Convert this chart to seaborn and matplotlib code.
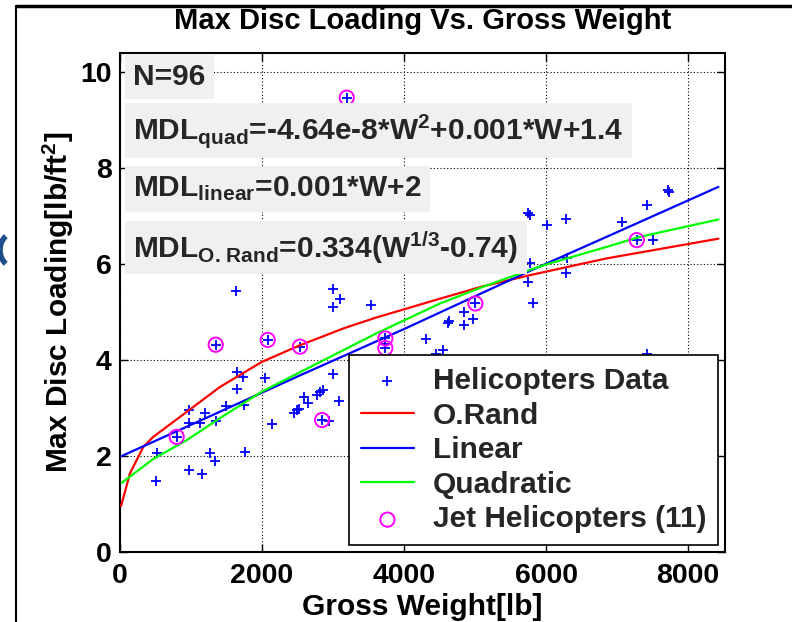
import matplotlib
matplotlib.use("Agg")
import matplotlib.pyplot as plt
from matplotlib.lines import Line2D
from matplotlib.patches import Arc
import seaborn as sns
import pandas as pd

# ---------------- data ----------------
heli_w = [503, 516, 798, 972, 972, 972, 1127, 1150, 1197, 1263, 1343, 1348, 1357,
          1498, 1634, 1643, 1643, 1737, 1742, 1754, 2042, 2080, 2145, 2455, 2489,
          2526, 2535, 2596, 2643, 2770, 2815, 2855, 2845, 2950, 3005, 3099, 3005,
          3005, 3089, 3193, 3533, 3737, 3737, 3737, 4307, 4448, 4552, 4630, 4620,
          4850, 4847, 4967, 5005, 5742, 5775, 5770, 5742, 5810, 6018, 6277, 6300,
          6280, 7066, 7277, 7511, 7418, 7718, 7737, 7418]
heli_mdl = [1.49, 2.07, 2.40, 1.71, 2.68, 2.96, 2.69, 1.63, 2.89, 2.06, 1.89, 4.32, 2.72,
            3.04, 5.44, 3.76, 3.40, 3.65, 3.07, 2.08, 3.62, 4.42, 2.67, 2.89, 2.96,
            2.99, 4.28, 3.23, 3.10, 3.27, 3.34, 3.38, 2.75, 2.72, 5.48, 5.27, 5.10,
            3.72, 3.15, 9.47, 5.15, 4.45, 4.34, 4.25, 4.43, 4.12, 4.21, 4.81, 4.78,
            5.01, 4.74, 4.85, 5.18, 7.06, 7.03, 6.02, 5.62, 5.19, 6.81, 6.93, 6.12,
            5.81, 6.88, 6.50, 6.51, 7.23, 7.54, 7.51, 4.12]

jet_w = [798, 1348, 2080, 2535, 2845, 3193, 3737, 3737, 5005, 7277]
jet_mdl = [2.40, 4.32, 4.42, 4.28, 2.75, 9.47, 4.45, 4.25, 5.18, 6.50]

orand_w = [15, 141, 328, 469, 939, 1408, 1995, 2535, 2817, 3146, 3615, 4005,
           4507, 5117, 5775, 6855, 8427]
orand_mdl = [0.96, 1.64, 2.19, 2.40, 2.92, 3.44, 3.96, 4.31, 4.47, 4.66, 4.89, 5.06,
             5.28, 5.54, 5.77, 6.12, 6.53]

linear_w = [24, 1268, 2488, 4005, 5775, 6855, 8427]
linear_mdl = [2.00, 2.83, 3.65, 4.65, 5.86, 6.57, 7.61]

quad_w = [24, 469, 939, 1408, 1995, 2817, 3615, 4005, 4507, 5117, 5775, 6018,
          6855, 7324, 8427]
quad_mdl = [1.44, 1.94, 2.33, 2.79, 3.34, 3.96, 4.56, 4.83, 5.18, 5.53, 5.88, 6.00,
            6.36, 6.57, 6.93]

x_ticks = [0, 2000, 4000, 6000, 8000]
y_ticks = [0, 2, 4, 6, 8, 10]

title = "Max Disc Loading Vs. Gross Weight"
x_label = "Gross Weight[lb]"
y_label = r"Max Disc Loading[lb/ft$^{2}$]"
legend_labels = ["Helicopters Data", "O.Rand", "Linear", "Quadratic", "Jet Helicopters (11)"]
txt_n = "N=96"
txt_quad = r"$\mathrm{MDL}_{\mathrm{quad}}\text{=-4.64e-8*W}^{2}\text{+0.001*W+1.4}$"
txt_lin = r"$\mathrm{MDL}_{\mathrm{linear}}\text{=0.001*W+2}$"
txt_orand = r"$\mathrm{MDL}_{\text{O. Rand}}\text{=0.334(W}^{\text{1/3}}\text{-0.74)}$"

# ---------------- style ----------------
sns.set_theme(style="white")
plt.rcParams.update({
    "font.family": ["Liberation Sans", "DejaVu Sans"],
    "font.weight": "bold",
    "axes.labelweight": "bold",
    "axes.titleweight": "bold",
    "mathtext.fontset": "custom",
    "mathtext.rm": "Liberation Sans:bold",
    "mathtext.it": "Liberation Sans:bold",
    "mathtext.bf": "Liberation Sans:bold",
    "mathtext.sf": "Liberation Sans:bold",
    "axes.unicode_minus": False,
})

W, H = 792, 622
fig = plt.figure(figsize=(W / 100, H / 100), dpi=100)
ax = fig.add_axes([120 / W, (H - 552) / H, (725 - 120) / W, (552 - 53) / H])

heli = pd.DataFrame({"w": heli_w, "mdl": heli_mdl})
jets = pd.DataFrame({"w": jet_w, "mdl": jet_mdl})

sns.scatterplot(data=heli, x="w", y="mdl", marker="+", color="#0000ff", s=60,
                linewidth=1.3, label=legend_labels[0], ax=ax, zorder=3)
sns.lineplot(x=orand_w, y=orand_mdl, color="#ff0000", lw=1.6, sort=False,
             estimator=None, label=legend_labels[1], ax=ax, zorder=3)
sns.lineplot(x=linear_w, y=linear_mdl, color="#0000ff", lw=1.6, sort=False,
             estimator=None, label=legend_labels[2], ax=ax, zorder=3)
sns.lineplot(x=quad_w, y=quad_mdl, color="#00ff00", lw=1.6, sort=False,
             estimator=None, label=legend_labels[3], ax=ax, zorder=3)
sns.scatterplot(data=jets, x="w", y="mdl", marker="o", s=105, color="#ff00ff",
                facecolor="none", edgecolor="#ff00ff", linewidth=1.4,
                label=legend_labels[4], ax=ax, zorder=4)

ax.set_xlim(0, 8520)
ax.set_ylim(0, 10.4)
ax.set_xticks(x_ticks)
ax.set_yticks(y_ticks)
ax.set_xticklabels([str(v) for v in x_ticks])
ax.set_yticklabels([str(v) for v in y_ticks])
ax.tick_params(direction="in", length=6, width=1, top=True, right=True,
               bottom=True, left=True, labelsize=20.5, colors="black")
ax.tick_params(axis="x", pad=8)
ax.tick_params(axis="y", pad=6)
ax.grid(True, linestyle=(0, (1, 2)), color="black", linewidth=0.8)
ax.set_axisbelow(True)
for sp in ax.spines.values():
    sp.set_visible(True)
    sp.set_color("black")
    sp.set_linewidth(1.5)

ax.set_title(title, fontsize=21, pad=17, color="black")
ax.set_xlabel(x_label, fontsize=21.5, labelpad=3, color="black")
ax.set_ylabel(y_label, fontsize=21.5, labelpad=3, color="black")

box = dict(boxstyle="square,pad=0.28", facecolor="#f0f0f0", edgecolor="none")
tkw = dict(fontsize=21.5, va="center", ha="left", bbox=box, zorder=6)
ax.text(190, 9.90, txt_n, **tkw)
ax.text(190, 8.78, txt_quad, **tkw)
ax.text(190, 7.57, txt_lin, **tkw)
ax.text(190, 6.35, txt_orand, **tkw)

handles, labels = ax.get_legend_handles_labels()
leg = ax.legend(handles, labels, loc="lower right", fontsize=21.5, frameon=True,
                fancybox=False, framealpha=1, edgecolor="black",
                borderaxespad=0.22, handlelength=1.75, handletextpad=0.65,
                labelspacing=0.22, borderpad=0.4)
leg.get_frame().set_linewidth(1.2)
leg.set_zorder(7)

# screenshot frame remnants
fig.add_artist(Line2D([16 / W, 16 / W], [0, (H - 6) / H], transform=fig.transFigure,
                      color="black", lw=1.5))
fig.add_artist(Line2D([16 / W, 1], [(H - 6) / H, (H - 6) / H], transform=fig.transFigure,
                      color="black", lw=2.5))
fig.add_artist(Arc((14 / W, 1 - 250 / H), 28 / W, 34 / H, theta1=115, theta2=245,
                   transform=fig.transFigure, color="#1f4e8c", lw=4))

fig.savefig("out.png", dpi=100)
